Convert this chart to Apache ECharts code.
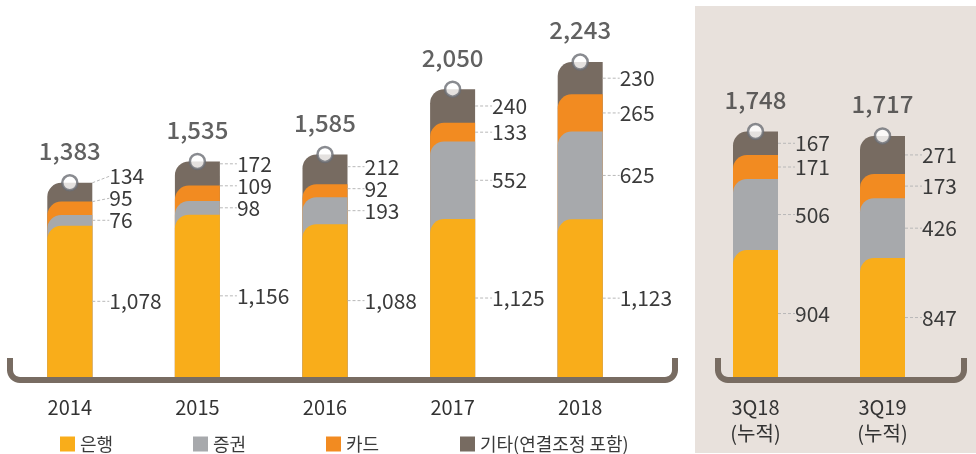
<!DOCTYPE html>
<html>
<head>
<meta charset="utf-8">
<script src="https://cdn.jsdelivr.net/npm/echarts@6/dist/echarts.min.js"></script>
<style>
  html, body { margin: 0; padding: 0; background: #fff; }
  #chart { width: 976px; height: 454px; }
</style>
</head>
<body>
<div id="chart"></div>
<script>
// 연도별 데이터
var years = ['2014', '2015', '2016', '2017', '2018'];
var bankY = [1078, 1156, 1088, 1125, 1123];
var secY = [76, 98, 193, 552, 625];
var cardY = [95, 109, 92, 133, 265];
var etcY = [134, 172, 212, 240, 230];
var totalY = [1383, 1535, 1585, 2050, 2243];

// 분기 누적 데이터
var quarters = ['3Q18\n(누적)', '3Q19\n(누적)'];
var bankQ = [904, 847];
var secQ = [506, 426];
var cardQ = [171, 173];
var etcQ = [167, 271];
var totalQ = [1748, 1717];

var names = ['은행', '증권', '카드', '기타(연결조정 포함)'];
var colors = ['#F9AD1A', '#A7A9AC', '#F28B21', '#776B61'];
var FONT = "'Noto Sans CJK KR', 'Noto Sans', sans-serif";
var GAP = 22;

function fmt(v) { return Number(v).toLocaleString('en-US'); }

// 아래 세그먼트부터 누적합
function cumulate(segs, k) {
  return segs[0].map(function (_, i) {
    var s = 0;
    for (var j = 0; j <= k; j++) s += segs[j][i];
    return s;
  });
}

// 라벨 겹침 방지 (카테고리별로 아래에서 위로 밀어 올림)
function makeLayout(segs, k) {
  return function (p) {
    var i = p.dataIndex, r = p.rect;
    var ppu = r.height / segs[k][i];
    var below = 0;
    for (var j = 0; j < k; j++) below += segs[j][i];
    var base = r.y + r.height + below * ppu;
    var ys = [], cum = 0;
    for (var j2 = 0; j2 < segs.length; j2++) {
      ys.push(base - (cum + segs[j2][i] / 2) * ppu);
      cum += segs[j2][i];
    }
    for (var m = 1; m < ys.length; m++) ys[m] = Math.min(ys[m], ys[m - 1] - GAP);
    return { x: r.x + r.width + 17, y: ys[k], align: 'left', verticalAlign: 'middle' };
  };
}

// 하단 괄호 모양 선 (양 끝이 위로 둥글게)
function bracket(x1, x2, yTop, yBot, rad) {
  var pts = [[x1, yTop], [x1, yBot - rad]];
  for (var a = 1; a <= 8; a++) {
    var t = Math.PI - (a / 8) * Math.PI / 2;
    pts.push([x1 + rad + rad * Math.cos(t), yBot - rad + rad * Math.sin(t)]);
  }
  pts.push([x2 - rad, yBot]);
  for (var b = 1; b <= 8; b++) {
    var t2 = Math.PI / 2 - (b / 8) * Math.PI / 2;
    pts.push([x2 - rad + rad * Math.cos(t2), yBot - rad + rad * Math.sin(t2)]);
  }
  pts.push([x2, yTop]);
  return {
    type: 'polyline', z: 1,
    shape: { points: pts },
    style: { fill: null, stroke: '#786C62', lineWidth: 6 }
  };
}

function buildSeries(segs, totals, axis) {
  var out = [];
  // 겹친 막대: 위 세그먼트가 아래까지 이어지고, 아래 세그먼트가 덮음
  for (var k = segs.length - 1; k >= 0; k--) {
    out.push({
      name: names[k],
      type: 'bar',
      xAxisIndex: axis, yAxisIndex: axis,
      barWidth: 45,
      barGap: '-100%',
      itemStyle: { color: colors[k], borderRadius: [14, 0, 0, 0] },
      data: cumulate(segs, k),
      z: 2
    });
  }
  // 투명 누적 막대: 값 라벨 + 점선
  for (var k2 = 0; k2 < segs.length; k2++) {
    out.push({
      name: 'lbl' + axis + k2,
      type: 'bar',
      stack: 'lbl' + axis,
      xAxisIndex: axis, yAxisIndex: axis,
      barWidth: 45,
      barGap: '-100%',
      itemStyle: { color: 'rgba(0,0,0,0)' },
      label: {
        show: true,
        position: 'right',
        formatter: function (p) { return fmt(p.value); },
        fontFamily: FONT,
        fontSize: 21,
        color: '#3a3a3a'
      },
      labelLine: { show: true, lineStyle: { color: '#b8b8b8', width: 1, type: [3, 2] } },
      labelLayout: makeLayout(segs, k2),
      data: segs[k2],
      z: 3
    });
  }
  // 합계 원 + 라벨
  out.push({
    type: 'scatter',
    xAxisIndex: axis, yAxisIndex: axis,
    symbol: 'circle',
    symbolSize: 15,
    itemStyle: { color: '#fff', borderColor: '#6b6e74', borderWidth: 2.5 },
    label: {
      show: true,
      position: 'top',
      distance: 11,
      formatter: function (p) { return fmt(p.value); },
      fontFamily: FONT,
      fontSize: 24,
      fontWeight: 500,
      color: '#3a3a3a'
    },
    data: totals,
    z: 5
  });
  return out;
}

var segsY = [bankY, secY, cardY, etcY];
var segsQ = [bankQ, secQ, cardQ, etcQ];

var legendX = [55, 188, 321, 455];
var legends = names.map(function (n, i) {
  return {
    data: [n],
    left: legendX[i],
    top: 430,
    icon: 'rect',
    itemWidth: 15,
    itemHeight: 15,
    itemGap: 10,
    selectedMode: false,
    textStyle: { fontFamily: FONT, fontSize: 18, color: '#3a3a3a' }
  };
});

var axisLabelStyle = { fontFamily: FONT, fontSize: 20, color: '#333', margin: 17, lineHeight: 26 };

var option = {
  animation: false,
  legend: legends,
  graphic: [
    { type: 'rect', z: 0, shape: { x: 695, y: 6, width: 281, height: 447 }, style: { fill: '#E8E1DC' } },
    bracket(10, 675, 358, 380, 10),
    bracket(718, 964, 358, 380, 10)
  ],
  grid: [
    { left: 6, width: 638, top: 40, bottom: 77 },
    { left: 692, width: 254, top: 40, bottom: 77 }
  ],
  xAxis: [
    { type: 'category', gridIndex: 0, data: years, axisLine: { show: false }, axisTick: { show: false }, axisLabel: axisLabelStyle },
    { type: 'category', gridIndex: 1, data: quarters, axisLine: { show: false }, axisTick: { show: false }, axisLabel: axisLabelStyle }
  ],
  yAxis: [
    { type: 'value', gridIndex: 0, min: 0, max: 2400, show: false, splitLine: { show: false } },
    { type: 'value', gridIndex: 1, min: 0, max: 2400, show: false, splitLine: { show: false } }
  ],
  series: buildSeries(segsY, totalY, 0).concat(buildSeries(segsQ, totalQ, 1))
};

var myChart = echarts.init(document.getElementById('chart'));
myChart.setOption(option);
window.onresize = function () { myChart.resize(); };
</script>
</body>
</html>
